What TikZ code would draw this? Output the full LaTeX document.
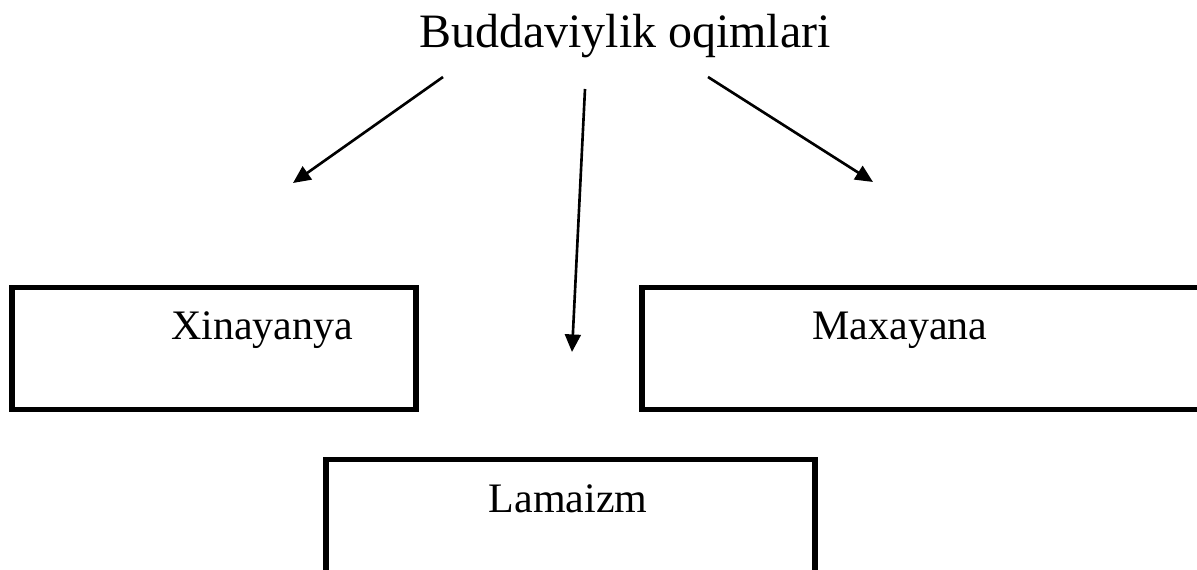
\documentclass[tikz,border=0pt]{standalone}
\usepackage{fontspec}
\setmainfont{Liberation Serif}
\usetikzlibrary{arrows.meta}

\begin{document}
\begin{tikzpicture}[x=0.02cm,y=-0.02cm,
    box/.style={draw,line width=2.9pt},
    lbl/.style={anchor=base,inner sep=0pt,font=\fontsize{23.9pt}{26pt}\selectfont},
    arr/.style={line width=1.5pt,-{Triangle[length=10pt,width=9pt]}}]
    \useasboundingbox (0,0) rectangle (1197,570);
    \clip (0,0) rectangle (1197,570);
    % title
    \node[lbl,font=\fontsize{27.3pt}{30pt}\selectfont] (title) at (625,48) {Buddaviylik oqimlari};
    % boxes
    \draw[box] (12,287.5) rectangle (416,409.5);
    \draw[box] (642,287.5) rectangle (1230,409.5);
    \draw[box] (326,459.5) rectangle (815,600);
    \node[lbl] (xin) at (262,340) {Xinayanya};
    \node[lbl] (max) at (900,340) {Maxayana};
    \node[lbl] (lam) at (568,513) {Lamaizm};
    % arrows
    \coordinate (l1) at (443,77);  \coordinate (l2) at (293,183);
    \coordinate (m1) at (585,89);  \coordinate (m2) at (572,352);
    \coordinate (r1) at (708,77);  \coordinate (r2) at (873,182);
    \draw[arr] (l1) -- (l2);
    \draw[arr] (m1) -- (m2);
    \draw[arr] (r1) -- (r2);
\end{tikzpicture}
\end{document}
